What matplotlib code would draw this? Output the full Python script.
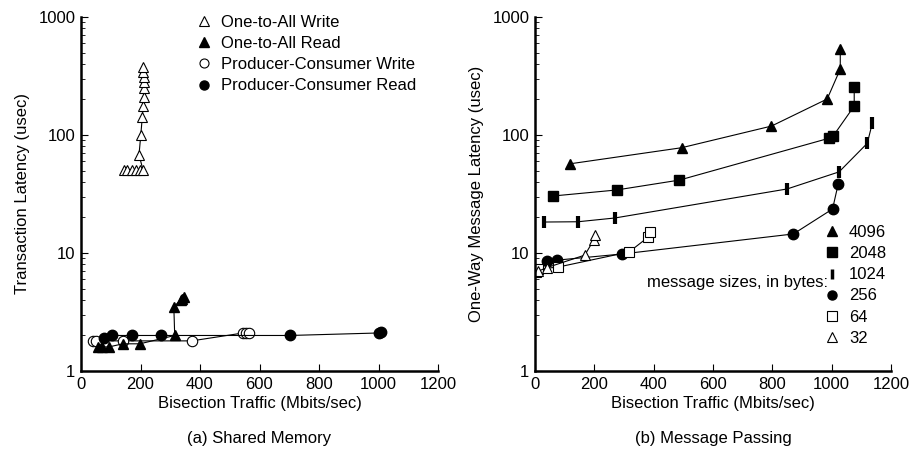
import matplotlib
matplotlib.use('Agg')
import matplotlib.pyplot as plt
from matplotlib.lines import Line2D
from matplotlib.ticker import FixedLocator, FuncFormatter, LogLocator, NullFormatter

plt.rcParams['font.family'] = ['Liberation Sans', 'DejaVu Sans']
FS = 12

# (a) shared memory
oa_write_x = [143, 156, 170, 184, 198, 208, 195, 201, 206, 209, 211, 212, 212, 211, 210, 209]
oa_write_y = [51, 51, 51, 51, 51, 51, 68, 100, 142, 176, 210, 250, 281, 310, 343, 377]
oa_read_x = [57, 70, 94, 141, 198, 315, 312, 335, 340, 346]
oa_read_y = [1.6, 1.6, 1.6, 1.7, 1.7, 2.0, 3.5, 4.0, 4.1, 4.2]
pc_write_x = [40, 50, 141, 372, 545, 556, 565]
pc_write_y = [1.8, 1.8, 1.8, 1.8, 2.1, 2.1, 2.1]
pc_read_x = [77, 104, 171, 268, 701, 1000, 1007]
pc_read_y = [1.9, 2.0, 2.0, 2.0, 2.0, 2.1, 2.15]
labels_a = ['One-to-All Write', 'One-to-All Read',
            'Producer-Consumer Write', 'Producer-Consumer Read']

# (b) message passing
m4096_x = [118, 494, 797, 985, 1029, 1029]
m4096_y = [57, 78, 119, 202, 362, 535]
m2048_x = [60, 275, 487, 992, 1005, 1076, 1076]
m2048_y = [30.4, 34.2, 41.5, 94, 98, 176, 256]
m1024_x = [30, 145, 269, 850, 1025, 1120, 1137]
m1024_y = [18.3, 18.4, 19.8, 34.9, 48.7, 85, 126]
m256_x = [39, 74, 292, 871, 1003, 1022]
m256_y = [8.55, 8.7, 9.8, 14.5, 23.6, 38.4]
m64_x = [5, 10, 78, 317, 381, 387]
m64_y = [6.9, 7.3, 7.6, 10.2, 13.6, 15.1]
m32_x = [10, 39, 168, 198, 202]
m32_y = [7.0, 7.5, 9.6, 12.9, 14.2]
labels_b = ['4096', '2048', '1024', '256', '64', '32']

fig = plt.figure(figsize=(9.12, 4.49), dpi=100)
ax1 = fig.add_axes([81 / 912, 78 / 449, 357 / 912, 354 / 449])
ax2 = fig.add_axes([535 / 912, 78 / 449, 356 / 912, 354 / 449])

tri_o = dict(marker='^', mfc='white', mec='black', ms=7.5, mew=0.8)
tri_f = dict(marker='^', mfc='black', mec='black', ms=7.5)
cir_o = dict(marker='o', mfc='white', mec='black', ms=7.5, mew=0.8)
cir_f = dict(marker='o', mfc='black', mec='black', ms=7.5)
sq_o = dict(marker='s', mfc='white', mec='black', ms=7, mew=0.8)
sq_f = dict(marker='s', mfc='black', mec='black', ms=7)
bar_f = dict(marker='|', mec='black', ms=8, mew=3)
line_kw = dict(color='black', lw=0.8)

ax1.plot(pc_write_x, pc_write_y, **line_kw, **cir_o)
ax1.plot(oa_read_x, oa_read_y, **line_kw, **tri_f)
ax1.plot(pc_read_x, pc_read_y, **line_kw, **cir_f)
ax1.plot(oa_write_x, oa_write_y, **line_kw, **tri_o)

ax2.plot(m4096_x, m4096_y, **line_kw, **tri_f)
ax2.plot(m2048_x, m2048_y, **line_kw, **sq_f)
ax2.plot(m1024_x, m1024_y, **line_kw, **bar_f)
ax2.plot(m256_x, m256_y, **line_kw, **cir_f)
ax2.plot(m64_x, m64_y, **line_kw, **sq_o)
ax2.plot(m32_x, m32_y, **line_kw, **tri_o)

for ax in (ax1, ax2):
    ax.set_yscale('log')
    ax.set_ylim(1, 1000)
    ax.set_xlim(0, 1200)
    ax.xaxis.set_major_locator(FixedLocator([0, 200, 400, 600, 800, 1000, 1200]))
    ax.yaxis.set_major_locator(FixedLocator([1, 10, 100, 1000]))
    ax.yaxis.set_major_formatter(FuncFormatter(lambda v, p: '%d' % v))
    ax.yaxis.set_minor_locator(LogLocator(base=10, subs=range(2, 10)))
    ax.yaxis.set_minor_formatter(NullFormatter())
    for s in ('top', 'right'):
        ax.spines[s].set_visible(False)
    for s in ('left', 'bottom'):
        ax.spines[s].set_linewidth(1.8)
    ax.tick_params(which='major', direction='in', length=5, width=0.8, labelsize=FS, pad=4)
    ax.tick_params(which='minor', direction='in', length=3, width=0.6)
    ax.set_xlabel('Bisection Traffic (Mbits/sec)', fontsize=FS, labelpad=3)

ax1.set_ylabel('Transaction Latency (usec)', fontsize=FS, labelpad=6)
ax2.set_ylabel('One-Way Message Latency (usec)', fontsize=FS, labelpad=6)

fig.text(259 / 912, 1 - 438 / 449, '(a) Shared Memory', ha='center', va='center', fontsize=FS)
fig.text(713 / 912, 1 - 438 / 449, '(b) Message Passing', ha='center', va='center', fontsize=FS)

def handle(style):
    return Line2D([], [], linestyle='none', **dict(style, ms=6.5))

h_a = [handle(tri_o), handle(tri_f), handle(cir_o), handle(cir_f)]
ax1.legend(h_a, labels_a, loc='upper left', bbox_to_anchor=(196 / 912, 1 - 15 / 449),
           bbox_transform=fig.transFigure, frameon=False, handlelength=1.0,
           handletextpad=0.5, borderpad=0, borderaxespad=0, labelspacing=0.37,
           fontsize=FS)

h_b = [handle(tri_f), handle(sq_f), Line2D([], [], linestyle='none', **dict(bar_f, ms=7, mew=2.5)),
       handle(cir_f), handle(sq_o), handle(tri_o)]
ax2.legend(h_b, labels_b, loc='upper left', bbox_to_anchor=(824 / 912, 1 - 225 / 449),
           bbox_transform=fig.transFigure, frameon=False, handlelength=1.0,
           handletextpad=0.5, borderpad=0, borderaxespad=0, labelspacing=0.37,
           fontsize=FS)
fig.text(828 / 912, 1 - 283 / 449, 'message sizes, in bytes:', ha='right', va='center', fontsize=FS)

fig.savefig('out.png', dpi=100)
